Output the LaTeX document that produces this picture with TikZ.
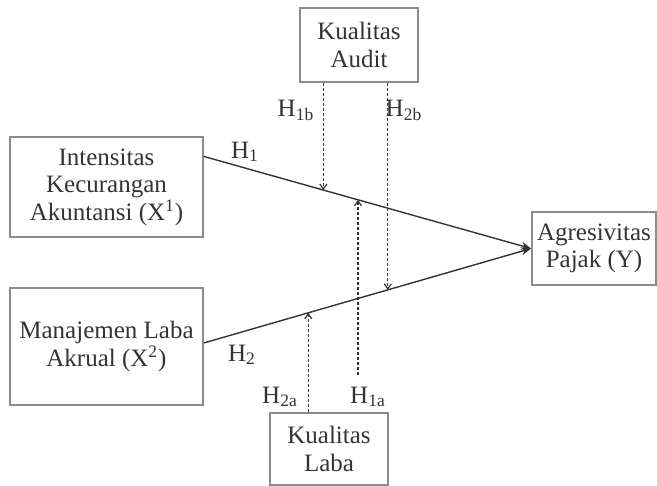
\documentclass[tikz,border=0pt]{standalone}
\usepackage{fontspec}
\setmainfont{Liberation Serif}
\usetikzlibrary{arrows.meta,positioning,calc}
\definecolor{boxline}{HTML}{8C8C8C}
\definecolor{ink}{HTML}{333333}

\begin{document}
\begin{tikzpicture}[x=0.5pt,y=-0.5pt,font=\fontsize{12.5}{13.8}\selectfont,text=ink,
  var/.style={draw=boxline,line width=0.9pt,align=center,inner sep=0pt},
  path/.style={draw=ink,line width=0.7pt,-{Stealth[length=5pt,width=4pt]}},
  moder/.style={draw=ink,line width=0.6pt,dash pattern=on 1.5pt off 1pt,-{Straight Barb[length=2.5pt,width=3.5pt]}},
  hlab/.style={inner sep=0pt}]
\useasboundingbox (0,0) rectangle (657,486);
% variables
\node[var,minimum width=96.5pt,minimum height=50pt] (intensitas) at (106.5,187) {Intensitas\\Kecurangan\\Akuntansi (X\textsuperscript{1})};
\node[var,minimum width=96.5pt,minimum height=58.5pt] (manajemen) at (106.5,346.5) {Manajemen Laba\\Akrual (X\textsuperscript{2})};
\node[var,minimum width=62pt,minimum height=36.5pt] (agresivitas) at (594,248.5) {Agresivitas\\Pajak (Y)};
\node[var,minimum width=59pt,minimum height=37pt] (audit) at (359,45) {Kualitas\\Audit};
\node[var,minimum width=59pt,minimum height=36pt] (laba) at (329,449) {Kualitas\\Laba};
% direct paths
\coordinate (s1) at ($(intensitas.north east)!0.2!(intensitas.south east)$);
\coordinate (s2) at ($(manajemen.north east)!0.47!(manajemen.south east)$);
\draw[path] (s1) -- (agresivitas.west);
\draw[path] (s2) -- (agresivitas.west);
% moderation points on the paths
\coordinate (m1b) at ($(s1)!0.365!(agresivitas.west)$);
\coordinate (m1a) at ($(s1)!0.471!(agresivitas.west)$);
\coordinate (m2b) at ($(s2)!0.562!(agresivitas.west)$);
\coordinate (m2a) at ($(s2)!0.319!(agresivitas.west)$);
\coordinate (f1a) at ($(m1a)+(0,175)$);
\draw[moder] (audit.south -| m1b) -- (m1b);
\draw[moder] (audit.south -| m2b) -- (m2b);
\draw[moder] (laba.north -| m2a) -- (m2a);
\draw[moder] (f1a) -- (m1a);
% labels
\node[hlab] (lh1) at (245,152) {H\textsubscript{1}};
\node[hlab] (lh2) at (242,355) {H\textsubscript{2}};
\node[hlab] (lh1b) at (296,110) {H\textsubscript{1b}};
\node[hlab] (lh2b) at (404,110) {H\textsubscript{2b}};
\node[hlab] (lh2a) at (280,397) {H\textsubscript{2a}};
\node[hlab] (lh1a) at (368,397) {H\textsubscript{1a}};
\end{tikzpicture}
\end{document}
